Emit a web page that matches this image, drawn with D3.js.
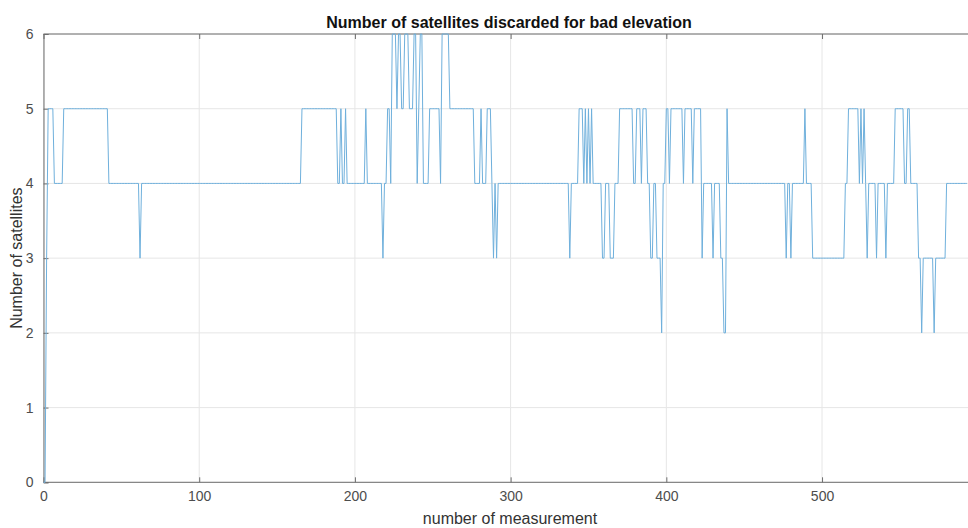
<!DOCTYPE html>
<html>
<head>
<meta charset="utf-8">
<script src="https://cdn.jsdelivr.net/npm/d3@7"></script>
<style>
  body { margin: 0; background: #fff; }
  svg { display: block; font-family: "Liberation Sans", Arial, sans-serif; }
  .grid line { stroke: #e6e6e6; stroke-width: 1; }
  .tick text { fill: #4d4d4d; font-size: 14px; }
</style>
</head>
<body>
<div id="vis"></div>
<script>
// run-length reading of the trace: index where a value starts, and the value
var runStarts = [0, 2, 3, 7, 13, 42, 62, 63, 166, 189, 191, 192, 194, 195, 207, 208, 218, 219,
  221, 223, 224, 227, 228, 230, 232, 235, 238, 240, 241, 242, 244, 248, 255, 256, 261, 277,
  281, 282, 285, 288, 289, 290, 291, 292, 338, 339, 344, 347, 348, 349, 350, 351, 352, 353,
  359, 361, 364, 367, 370, 379, 381, 384, 385, 388, 390, 392, 394, 397, 398, 400, 402, 403,
  411, 412, 417, 418, 423, 424, 430, 431, 435, 437, 439, 440, 477, 478, 480, 481, 489, 490,
  494, 515, 517, 524, 525, 526, 527, 528, 529, 530, 535, 536, 541, 542, 547, 553, 555, 557,
  562, 564, 565, 572, 573, 580];
var runValues = [0, 3, 5, 4, 5, 4, 3, 4, 5, 4, 5, 4, 5, 4, 5, 4, 3, 4,
  5, 4, 6, 5, 6, 5, 6, 5, 6, 4, 5, 6, 4, 5, 4, 6, 5, 4,
  5, 4, 5, 4, 3, 4, 3, 4, 3, 4, 5, 4, 5, 4, 5, 4, 5, 4,
  3, 4, 3, 4, 5, 4, 5, 4, 5, 4, 3, 4, 3, 2, 4, 5, 4, 5,
  4, 5, 4, 5, 3, 4, 3, 4, 3, 2, 5, 4, 3, 4, 3, 4, 5, 4,
  3, 4, 5, 4, 5, 4, 5, 4, 3, 4, 3, 4, 3, 4, 5, 4, 5, 4,
  3, 2, 3, 2, 3, 4];
var numPoints = 594;

var xTicks = [0, 100, 200, 300, 400, 500];
var yTicks = [0, 1, 2, 3, 4, 5, 6];

var titleText = 'Number of satellites discarded for bad elevation';
var xLabel = 'number of measurement';
var yLabel = 'Number of satellites';

var width = 968, height = 528;
var margin = { top: 34, right: 0, bottom: 46, left: 43.5 };

// expand the runs to one value per measurement
var series = [];
for (var r = 0; r < runStarts.length; r++) {
  var end = r + 1 < runStarts.length ? runStarts[r + 1] : numPoints;
  for (var i = runStarts[r]; i < end; i++) {
    series.push({ n: i, v: runValues[r] });
  }
}

var x = d3.scaleLinear().domain([0, numPoints]).range([margin.left, width - margin.right + 0.4]);
var y = d3.scaleLinear().domain([0, 6]).range([height - margin.bottom + 0.3, margin.top]);

var svg = d3.select('#vis').append('svg')
  .attr('width', width)
  .attr('height', height);

// grid
svg.append('g').attr('class', 'grid')
  .selectAll('line.gx').data(xTicks).enter().append('line')
  .attr('x1', function (d) { return x(d); }).attr('x2', function (d) { return x(d); })
  .attr('y1', y(0)).attr('y2', y(6));
svg.append('g').attr('class', 'grid')
  .selectAll('line.gy').data(yTicks).enter().append('line')
  .attr('x1', x(0)).attr('x2', width)
  .attr('y1', function (d) { return y(d); }).attr('y2', function (d) { return y(d); });

// axes with inward ticks, matlab style
var xAxis = svg.append('g')
  .attr('transform', 'translate(0,' + y(0) + ')')
  .call(d3.axisBottom(x).tickValues(xTicks).tickSize(-5).tickPadding(9).tickFormat(d3.format('d')));
var xTop = svg.append('g')
  .attr('transform', 'translate(0,' + y(6) + ')')
  .call(d3.axisTop(x).tickValues(xTicks).tickSize(-5).tickFormat(''));
var yAxis = svg.append('g')
  .attr('transform', 'translate(' + x(0) + ',0)')
  .call(d3.axisLeft(y).tickValues(yTicks).tickSize(-5).tickPadding(10).tickFormat(d3.format('d')));

[xAxis, xTop, yAxis].forEach(function (g) {
  g.select('.domain').attr('stroke', '#6e6e6e');
  g.selectAll('.tick line').attr('stroke', '#6e6e6e');
});
xTop.select('.domain').attr('d', 'M' + x(0) + ',0H' + width);
xAxis.select('.domain').attr('d', 'M' + x(0) + ',0H' + width);

// the trace
var line = d3.line()
  .x(function (d) { return x(d.n); })
  .y(function (d) { return y(d.v); });

svg.append('path')
  .datum(series)
  .attr('fill', 'none')
  .attr('stroke', '#6fb0dc')
  .attr('stroke-width', 1)
  .attr('d', line);

// labels
svg.append('text')
  .attr('x', 509)
  .attr('y', 28)
  .attr('text-anchor', 'middle')
  .style('font-size', '16px')
  .style('font-weight', 'bold')
  .style('fill', '#111')
  .text(titleText);

svg.append('text')
  .attr('x', 510)
  .attr('y', 524)
  .attr('text-anchor', 'middle')
  .style('font-size', '16px')
  .style('fill', '#333')
  .text(xLabel);

svg.append('text')
  .attr('transform', 'translate(22,' + (margin.top + y(0)) / 2 + ') rotate(-90)')
  .attr('text-anchor', 'middle')
  .style('font-size', '16px')
  .style('fill', '#333')
  .text(yLabel);
</script>
</body>
</html>
